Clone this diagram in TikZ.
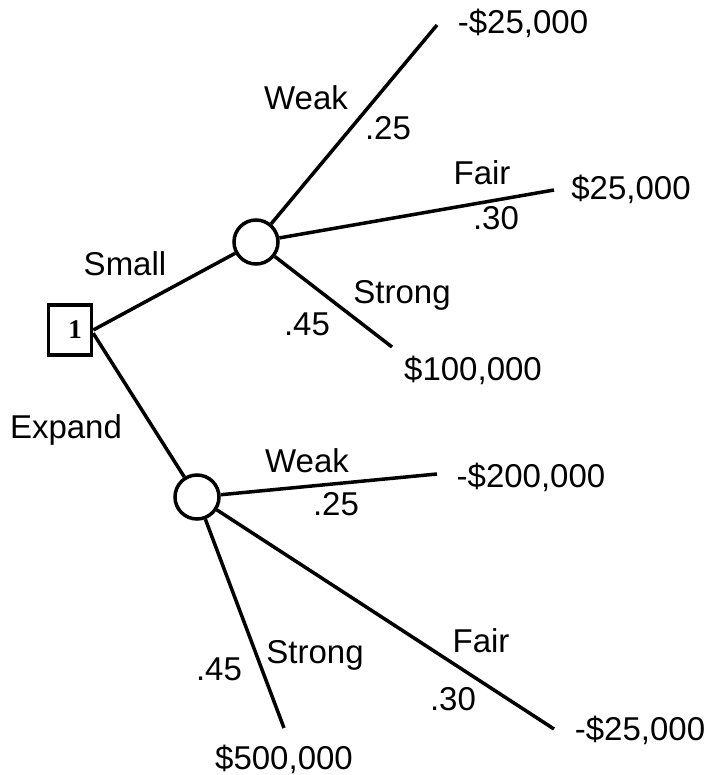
\documentclass[tikz,border=0pt]{standalone}
\usepackage{fontspec}
\setmainfont{Liberation Sans}
\newfontfamily\boxfont{Liberation Serif}

\begin{document}
\begin{tikzpicture}[x=1pt,y=-1pt,line width=3.5pt,
    decision/.style={draw,rectangle,minimum width=43pt,minimum height=50pt,inner sep=0pt,font=\boxfont\bfseries\fontsize{27}{28}\selectfont},
    chance/.style={draw,circle,minimum size=44pt,inner sep=0pt},
    lbl/.style={anchor=base,inner sep=0pt,font=\fontsize{33}{38}\selectfont}]
    \useasboundingbox (0,0) rectangle (708,775);

    \node[decision] at (70,330)  (d1) {\hspace{10pt}1};
    \node[chance]   at (256,242) (c1) {};
    \node[chance]   at (197,497) (c2) {};

    \coordinate (w1) at (437,25);
    \coordinate (f1) at (554,190);
    \coordinate (s1) at (392,347);
    \coordinate (w2) at (437,474);
    \coordinate (f2) at (554,729);
    \coordinate (s2) at (284,728);

    \draw (d1.east) -- (c1);
    \draw (d1.-8) -- (c2);
    \draw (c1) -- (w1);
    \draw (c1) -- (f1);
    \draw (c1) -- (s1);
    \draw (c2) -- (w2);
    \draw (c2) -- (f2);
    \draw (c2) -- (s2);

    % branch labels
    \node[lbl] at (125,275) (small)  {Small};
    \node[lbl] at (66,438)  (expand) {Expand};

    \node[lbl] at (306,110) (weak1)   {Weak};
    \node[lbl] at (388,140) (pw1)     {.25};
    \node[lbl] at (482,185) (fair1)   {Fair};
    \node[lbl] at (496,230) (pf1)     {.30};
    \node[lbl] at (402,303) (strong1) {Strong};
    \node[lbl] at (307,335) (ps1)     {.45};

    \node[lbl] at (307,472) (weak2)   {Weak};
    \node[lbl] at (336,515) (pw2)     {.25};
    \node[lbl] at (481,652) (fair2)   {Fair};
    \node[lbl] at (453,710) (pf2)     {.30};
    \node[lbl] at (315,663) (strong2) {Strong};
    \node[lbl] at (219,680) (ps2)     {.45};

    % payoffs
    \node[lbl] at (523,34)  (v1) {-\$25,000};
    \node[lbl] at (631,200) (v2) {\$25,000};
    \node[lbl] at (473,380) (v3) {\$100,000};
    \node[lbl] at (531,487) (v4) {-\$200,000};
    \node[lbl] at (640,740) (v5) {-\$25,000};
    \node[lbl] at (284,769) (v6) {\$500,000};
\end{tikzpicture}
\end{document}
